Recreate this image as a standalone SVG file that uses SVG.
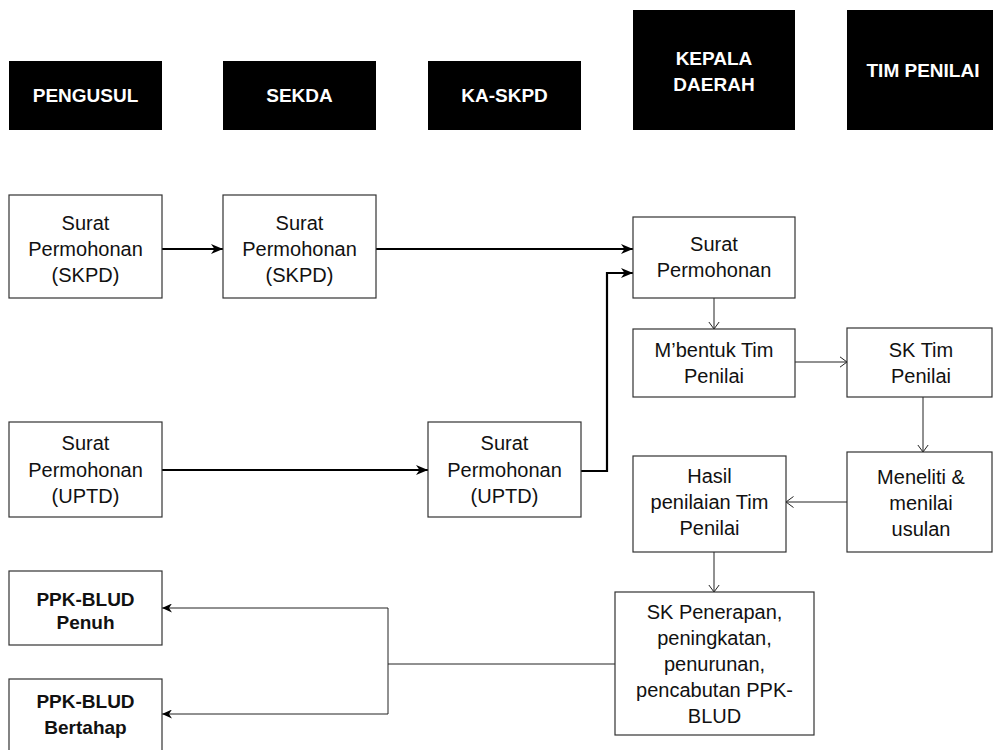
<svg xmlns="http://www.w3.org/2000/svg" width="993" height="750" viewBox="0 0 993 750">
  <style>
    .hdr rect { fill: #000; }
    .hdr text { fill: #fff; font-family: "Liberation Sans", Arial, sans-serif; font-weight: bold; font-size: 19px; text-anchor: middle; }
    .node rect { fill: #fff; stroke: #333; stroke-width: 1.2; }
    .node text { fill: #111; font-family: "Liberation Sans", Arial, sans-serif; font-size: 20px; text-anchor: middle; }
    .node text.b { font-weight: bold; font-size: 19px; }
    .thick { fill: none; stroke: #000; stroke-width: 2.2; }
    .thin { fill: none; stroke: #222; stroke-width: 1; }
  </style>
  <defs>
    <marker id="classic" markerUnits="userSpaceOnUse" viewBox="0 0 12 10" refX="12" refY="5" markerWidth="12" markerHeight="10" orient="auto">
      <path d="M0,0 L12,5 L0,10 L3.5,5 Z" fill="#000"/>
    </marker>
    <marker id="classicSm" markerUnits="userSpaceOnUse" viewBox="0 0 10 9" refX="10" refY="4.5" markerWidth="10" markerHeight="9" orient="auto">
      <path d="M0,0 L10,4.5 L0,9 L3,4.5 Z" fill="#000"/>
    </marker>
    <marker id="open" markerUnits="userSpaceOnUse" viewBox="0 0 8 12" refX="7.5" refY="6" markerWidth="8" markerHeight="12" orient="auto">
      <path d="M0,0.5 L7.5,6 L0,11.5" fill="none" stroke="#222" stroke-width="1"/>
    </marker>
  </defs>

  <!-- lane headers -->
  <g id="hdr-pengusul" class="hdr"><rect x="9" y="61" width="153" height="69"/><text x="85.5" y="102">PENGUSUL</text></g>
  <g id="hdr-sekda" class="hdr"><rect x="223" y="61" width="153" height="69"/><text x="299.5" y="102">SEKDA</text></g>
  <g id="hdr-ka-skpd" class="hdr"><rect x="428" y="61" width="153" height="69"/><text x="504.5" y="102">KA-SKPD</text></g>
  <g id="hdr-kepala-daerah" class="hdr"><rect x="633" y="10" width="162" height="120"/><text x="714" y="65">KEPALA</text><text x="714" y="91">DAERAH</text></g>
  <g id="hdr-tim-penilai" class="hdr"><rect x="847" y="10" width="153" height="120"/><text x="923" y="77">TIM PENILAI</text></g>

  <!-- connectors -->
  <g id="connectors">
    <path class="thick" d="M162,249 H223" marker-end="url(#classic)"/>
    <path class="thick" d="M376,249 H633" marker-end="url(#classic)"/>
    <path class="thick" d="M162,470 H428" marker-end="url(#classic)"/>
    <path class="thick" d="M581,471 H607 V273 H633" marker-end="url(#classic)"/>
    <path class="thin" d="M714,298 V329" marker-end="url(#open)"/>
    <path class="thin" d="M795,362 H847" marker-end="url(#open)"/>
    <path class="thin" d="M923,397 V452" marker-end="url(#open)"/>
    <path class="thin" d="M847,502 H786" marker-end="url(#open)"/>
    <path class="thin" d="M714,552 V592" marker-end="url(#open)"/>
    <path class="thin" d="M615,664 H388 V608 H162" marker-end="url(#classicSm)"/>
    <path class="thin" d="M388,664 V714 H162" marker-end="url(#classicSm)"/>
  </g>

  <!-- process nodes -->
  <g id="n-surat-skpd-pengusul" class="node">
    <rect x="9" y="195" width="153" height="103"/>
    <text x="85.5" y="230">Surat</text><text x="85.5" y="256">Permohonan</text><text x="85.5" y="282">(SKPD)</text>
  </g>
  <g id="n-surat-skpd-sekda" class="node">
    <rect x="223" y="195" width="153" height="103"/>
    <text x="299.5" y="230">Surat</text><text x="299.5" y="256">Permohonan</text><text x="299.5" y="282">(SKPD)</text>
  </g>
  <g id="n-surat-kd" class="node">
    <rect x="633" y="217" width="162" height="81"/>
    <text x="714" y="251">Surat</text><text x="714" y="277">Permohonan</text>
  </g>
  <g id="n-membentuk" class="node">
    <rect x="633" y="329" width="162" height="68"/>
    <text x="714" y="357">M’bentuk Tim</text><text x="714" y="383">Penilai</text>
  </g>
  <g id="n-sk-tim" class="node">
    <rect x="847" y="328" width="145" height="69"/>
    <text x="921" y="357">SK Tim</text><text x="921" y="383">Penilai</text>
  </g>
  <g id="n-meneliti" class="node">
    <rect x="847" y="452" width="145" height="100"/>
    <text x="921" y="484">Meneliti &amp;</text><text x="921" y="510">menilai</text><text x="921" y="536">usulan</text>
  </g>
  <g id="n-hasil" class="node">
    <rect x="633" y="456" width="153" height="96"/>
    <text x="709.5" y="483">Hasil</text><text x="709.5" y="509">penilaian Tim</text><text x="709.5" y="535">Penilai</text>
  </g>
  <g id="n-sk-penerapan" class="node">
    <rect x="615" y="592" width="199" height="143"/>
    <text x="714.5" y="618.5">SK Penerapan,</text><text x="714.5" y="644.5">peningkatan,</text><text x="714.5" y="670.5">penurunan,</text><text x="714.5" y="696.5">pencabutan PPK-</text><text x="714.5" y="722.5">BLUD</text>
  </g>
  <g id="n-surat-uptd-pengusul" class="node">
    <rect x="9" y="422" width="153" height="95"/>
    <text x="85.5" y="450">Surat</text><text x="85.5" y="477">Permohonan</text><text x="85.5" y="503">(UPTD)</text>
  </g>
  <g id="n-surat-uptd-ka" class="node">
    <rect x="428" y="422" width="153" height="95"/>
    <text x="504.5" y="450">Surat</text><text x="504.5" y="477">Permohonan</text><text x="504.5" y="503">(UPTD)</text>
  </g>
  <g id="n-ppk-penuh" class="node">
    <rect x="9" y="571" width="153" height="74"/>
    <text class="b" x="85.5" y="606">PPK-BLUD</text><text class="b" x="85.5" y="629">Penuh</text>
  </g>
  <g id="n-ppk-bertahap" class="node">
    <rect x="9" y="679" width="153" height="80"/>
    <text class="b" x="85.5" y="708">PPK-BLUD</text><text class="b" x="85.5" y="734">Bertahap</text>
  </g>
</svg>
